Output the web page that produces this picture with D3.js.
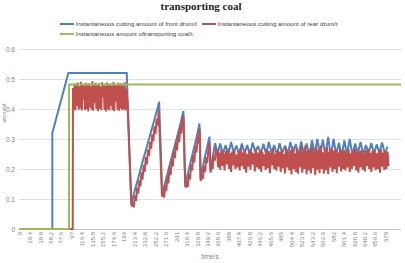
<!DOCTYPE html>
<html><head><meta charset="utf-8">
<script src="https://cdn.jsdelivr.net/npm/d3@7"></script>
<style>body{margin:0;background:#fff}svg{display:block}</style>
</head><body>
<svg id="c" width="405" height="263"></svg>
<script>
// ---------- data ----------
const titleLines = ["transporting coal"];
const seriesNames = ["Instantaneous cutting amount of front drum/t", "Instantaneous cutting amount of rear drum/t", "Instantaneous amount oftransporting coal/t"];
const xTickLabels = ["0","19.4","38.8","58.2","77.6","97","116.4","135.8","155.2","174.6","194","213.4","232.8","252.2","271.6","291","310.4","329.8","349.2","368.6","388","407.4","426.8","446.2","465.6","485","504.4","523.8","543.2","562.6","582","601.4","620.8","640.2","659.6","679"];
const yTicks = [0, 0.1, 0.2, 0.3, 0.4, 0.5, 0.6];
const xTitle = "time/s";
const yTitle = "amount/t";

// front drum: [time, value] key points, then steady oscillation sampled every 5 s
const frontHead = [[0,0],[61.8,0],[61.8,0.32],[91.5,0.52],[199.7,0.52],[208,0.08],[212,0.11],[216,0.138],[220,0.163],[224,0.19],[228,0.218],[232,0.243],[236,0.268],[240,0.294],[244,0.32],[248,0.346],[252,0.372],[256,0.397],[259.7,0.424],[265.5,0.115],[270,0.148],[275,0.183],[280,0.218],[285,0.253],[290,0.287],[295,0.322],[300,0.357],[304.7,0.393],[308,0.142],[312,0.178],[317,0.215],[322,0.253],[327,0.29],[331,0.32],[334.4,0.352],[336.3,0.165],[340,0.2],[344,0.236],[348,0.268],[353,0.308],[354.8,0.195],[359,0.242],[363.5,0.286]];
const frontSteadyStart = 368, frontSteadyStep = 5;
const frontSteady = [0.25,0.285,0.25,0.28,0.245,0.29,0.255,0.278,0.248,0.285,0.252,0.28,0.245,0.288,0.256,0.276,0.25,0.284,0.248,0.29,0.254,0.28,0.246,0.286,0.252,0.278,0.248,0.29,0.25,0.283,0.245,0.292,0.25,0.285,0.244,0.296,0.25,0.3,0.242,0.298,0.246,0.307,0.24,0.3,0.248,0.288,0.243,0.295,0.25,0.3,0.246,0.285,0.252,0.29,0.248,0.28,0.252,0.287,0.25,0.282,0.254,0.288,0.25,0.275];

// rear drum: zero segment, plateau sampled every 1.5 s, then dense samples every 2 s
const rearHead = [[0,0],[99.6,0]];
const rearPlateauStart = 100, rearPlateauStep = 1.5;
const rearPlateau = [0.47,0.40,0.485,0.395,0.48,0.41,0.488,0.398,0.476,0.402,0.49,0.395,0.482,0.43,0.478,0.397,0.487,0.4,0.48,0.392,0.485,0.405,0.476,0.398,0.492,0.394,0.481,0.42,0.487,0.399,0.479,0.393,0.486,0.401,0.475,0.396,0.489,0.44,0.482,0.397,0.478,0.392,0.488,0.4,0.48,0.395,0.485,0.41,0.477,0.396,0.49,0.393,0.483,0.425,0.479,0.398,0.487,0.394,0.48,0.402,0.486,0.396,0.478,0.399,0.489,0.395,0.465];
const rearDenseStart = 201, rearDenseStep = 2;
const rearDense = [0.42,0.33,0.24,0.15,0.075,0.09,0.072,0.112,0.094,0.138,0.118,0.163,0.142,0.189,0.165,0.214,0.19,0.24,0.215,0.265,0.243,0.291,0.268,0.316,0.292,0.342,0.318,0.367,0.345,0.395,0.305,0.205,0.108,0.125,0.105,0.148,0.126,0.176,0.152,0.204,0.18,0.232,0.208,0.26,0.236,0.288,0.262,0.316,0.29,0.344,0.318,0.37,0.372,0.215,0.138,0.16,0.14,0.185,0.165,0.216,0.195,0.248,0.222,0.278,0.255,0.308,0.285,0.335,0.16,0.18,0.168,0.21,0.19,0.24,0.22,0.268,0.288,0.188,0.215,0.2,0.245,0.228,0.268,
0.262,0.205,0.255,0.198,0.266,0.21,0.25,0.195,0.26,0.215,0.268,0.2,0.252,0.19,0.258,0.212,0.265,0.2,0.248,0.205,
0.26,0.195,0.27,0.21,0.255,0.2,0.262,0.188,0.25,0.208,0.266,0.198,0.258,0.215,0.252,0.192,0.268,0.205,0.255,0.2,
0.263,0.19,0.257,0.21,0.249,0.197,0.267,0.203,0.26,0.186,0.254,0.212,0.269,0.2,0.251,0.194,0.262,0.208,0.258,0.19,
0.265,0.202,0.25,0.185,0.272,0.205,0.256,0.195,0.264,0.182,0.275,0.2,0.252,0.19,0.27,0.184,0.258,0.205,0.278,0.188,
0.255,0.2,0.28,0.182,0.26,0.195,0.266,0.185,0.276,0.203,0.254,0.18,0.272,0.198,0.262,0.186,0.279,0.2,0.256,0.184,
0.268,0.196,0.274,0.183,0.258,0.205,0.27,0.19,0.262,0.2,0.266,0.186,0.255,0.208,0.268,0.192,0.26,0.2,0.264,0.195,
0.258,0.205,0.266,0.19,0.252,0.2,0.262,0.21,0.268,0.195,0.255,0.188,0.26,0.206,0.265,0.198,0.25,0.192,0.262,0.21,
0.267,0.2,0.254,0.19,0.26,0.205,0.264,0.196,0.252,0.2,0.262,0.188,0.266,0.208,0.255,0.197,0.26,0.2,0.258,0.21];

// transporting coal
const coalPoints = [[0,0],[92.7,0],[92.7,0.482],[708,0.482]];
const xMax = 708;
const colors = ["#4F81BD", "#C0504D", "#9BBB59"];

// ---------- build series ----------
const sampled = (start, step, vals) => vals.map((v, i) => [start + i * step, v]);
const frontData = frontHead.concat(sampled(frontSteadyStart, frontSteadyStep, frontSteady));
const rearData = rearHead.concat(sampled(rearPlateauStart, rearPlateauStep, rearPlateau), sampled(rearDenseStart, rearDenseStep, rearDense));
const coalData = coalPoints;

// ---------- chart ----------
const svg = d3.select("#c");
const plotL = 19, plotR = 401, plotT = 49, plotB = 229;
const x = d3.scaleLinear().domain([0, xMax]).range([plotL, plotR]);
const y = d3.scaleLinear().domain([0, 0.6]).range([plotB, plotT]);
const font = "'Liberation Sans', Arial, sans-serif";

// title
svg.selectAll("text.title").data(titleLines).join("text")
  .attr("class", "title")
  .attr("x", 201).attr("y", 10)
  .attr("text-anchor", "middle")
  .attr("font-family", "'Liberation Serif', 'Times New Roman', serif")
  .attr("font-weight", "bold").attr("font-size", 11).attr("fill", "#262626")
  .text(d => d);

// gridlines + y axis
const gy = svg.append("g").attr("transform", `translate(${plotL},0)`)
  .call(d3.axisLeft(y).tickValues(yTicks).tickSize(-(plotR - plotL)).tickPadding(4)
    .tickFormat(d => d === 0 ? "0" : d3.format(".1f")(d)));
gy.select(".domain").remove();
gy.selectAll(".tick line").attr("stroke", d => d === 0 ? "#c8c8c8" : "#e0e0e0").attr("stroke-width", 1);
gy.selectAll(".tick text").attr("font-family", font).attr("font-size", 6.5).attr("fill", "#7f7f7f");

// x axis
const gx = svg.append("g").attr("transform", `translate(0,${plotB})`)
  .call(d3.axisBottom(x).tickValues(xTickLabels.map(Number)).tickSize(0)
    .tickFormat((d, i) => xTickLabels[i]));
gx.select(".domain").remove();
gx.selectAll(".tick text")
  .attr("font-family", font).attr("font-size", 6).attr("fill", "#7f7f7f")
  .attr("text-anchor", "end")
  .attr("transform", "rotate(-90)")
  .attr("x", -3).attr("y", 0).attr("dy", "0.35em");

// axis titles
svg.append("text").attr("x", 210).attr("y", 259).attr("text-anchor", "middle")
  .attr("font-family", font).attr("font-size", 6.5).attr("fill", "#7f7f7f").text(xTitle);
svg.append("text").attr("transform", "translate(6,113) rotate(-90)").attr("text-anchor", "middle")
  .attr("font-family", font).attr("font-size", 5).attr("fill", "#8c8c8c").text(yTitle);

// lines
const line = d3.line().x(d => x(d[0])).y(d => y(d[1]));
const plot = svg.append("g");
[[frontData, 0], [rearData, 1], [coalData, 2]].forEach(([data, k]) => {
  plot.append("path").datum(data).attr("d", line)
    .attr("fill", "none").attr("stroke", colors[k]).attr("stroke-width", 2)
    .attr("stroke-linejoin", "miter").attr("stroke-miterlimit", 2);
});

// legend
const legendItems = [
  {name: seriesNames[0], c: colors[0], lx: 60, ly: 24},
  {name: seriesNames[1], c: colors[1], lx: 202, ly: 24},
  {name: seriesNames[2], c: colors[2], lx: 60, ly: 34}
];
const lg = svg.append("g");
legendItems.forEach(it => {
  lg.append("line").attr("x1", it.lx).attr("x2", it.lx + 14).attr("y1", it.ly).attr("y2", it.ly)
    .attr("stroke", it.c).attr("stroke-width", 2);
  lg.append("text").attr("x", it.lx + 15.5).attr("y", it.ly).attr("dy", "0.35em")
    .attr("font-family", font).attr("font-size", 6.2).attr("fill", "#404040").text(it.name);
});
</script>
</body></html>
